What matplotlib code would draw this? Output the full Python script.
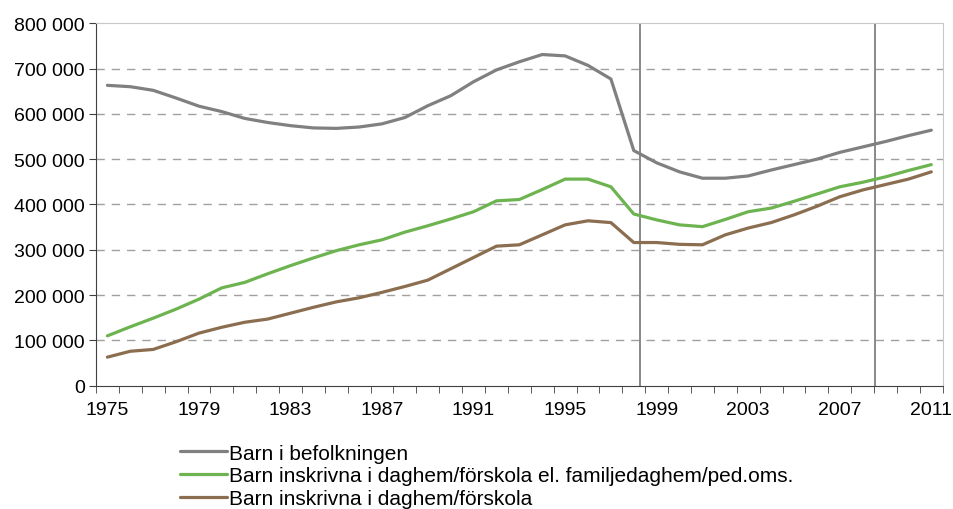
import matplotlib.pyplot as plt
import numpy as np

years = list(range(1975, 2012))

befolkning = [663, 660, 652, 635, 617, 605, 590, 581, 574, 569, 568, 571, 578, 592,
              618, 640, 671, 697, 715, 731, 728, 707, 677, 519, 492, 472, 458, 458,
              463, 476, 488, 500, 515, 527, 539, 552, 564]
daghem_fam = [110, 130, 149, 169, 191, 216, 228, 247, 265, 282, 298, 311, 322, 339,
              353, 368, 384, 408, 411, 433, 456, 456, 439, 379, 366, 355, 351, 367,
              384, 392, 407, 423, 439, 449, 461, 475, 488]
daghem = [63, 76, 80, 97, 116, 129, 140, 147, 160, 173, 185, 194, 206, 219,
          233, 258, 283, 308, 311, 333, 355, 364, 360, 316, 316, 312, 311, 333,
          348, 360, 377, 396, 417, 432, 444, 456, 472]

# vertical reference lines (fractional year positions)
marker_years = [1998.25, 2008.55]

labels = ['Barn i befolkningen',
          'Barn inskrivna i daghem/förskola el. familjedaghem/ped.oms.',
          'Barn inskrivna i daghem/förskola']
colors = ['#808080', '#6db451', '#8b6e50']

plt.rcParams['font.family'] = ['Liberation Sans', 'DejaVu Sans']

fig = plt.figure(figsize=(9.54, 5.10), dpi=100)
ax = fig.add_axes([0.1006, 0.2418, 0.8876, 0.7106])

x = np.arange(len(years))
for vals, lab, col in zip([befolkning, daghem_fam, daghem], labels, colors):
    ax.plot(x, np.array(vals) * 1000, color=col, lw=2.3, label=lab,
            solid_joinstyle='round', solid_capstyle='round')

for yr in marker_years:
    ax.axvline(yr - years[0], color='#808080', lw=1.3, zorder=1)

ax.set_xlim(-0.5, len(years) - 0.5)
ax.set_ylim(0, 800000)
ax.set_yticks(range(0, 800001, 100000))
ax.set_yticklabels(['0'] + [f'{v // 1000} 000' for v in range(100000, 800001, 100000)])
ax.set_xticks(x[::4])
ax.set_xticklabels([str(y) for y in years[::4]])
ax.set_xticks(np.arange(-0.5, len(years)), minor=True)
ax.tick_params(axis='x', which='major', length=0, pad=11, labelsize=14)
ax.tick_params(axis='x', which='minor', length=5, color='#404040')
ax.tick_params(axis='y', length=5, color='#404040', labelsize=14, pad=3)

for v in range(100000, 800000, 100000):
    ax.axhline(v, color='#a0a0a0', lw=1, ls=(0, (6, 5)), zorder=0)

ax.spines['left'].set_color('#404040')
ax.spines['bottom'].set_color('#404040')
ax.spines['top'].set_color('#c8c8c8')
ax.spines['right'].set_color('#c8c8c8')

fig.legend(loc='upper left', bbox_to_anchor=(0.189, 0.128), frameon=False,
           fontsize=15, handlelength=2.25, handletextpad=0.1, labelspacing=0.18,
           borderaxespad=0, borderpad=0)

fig.savefig('out.png', dpi=100)
